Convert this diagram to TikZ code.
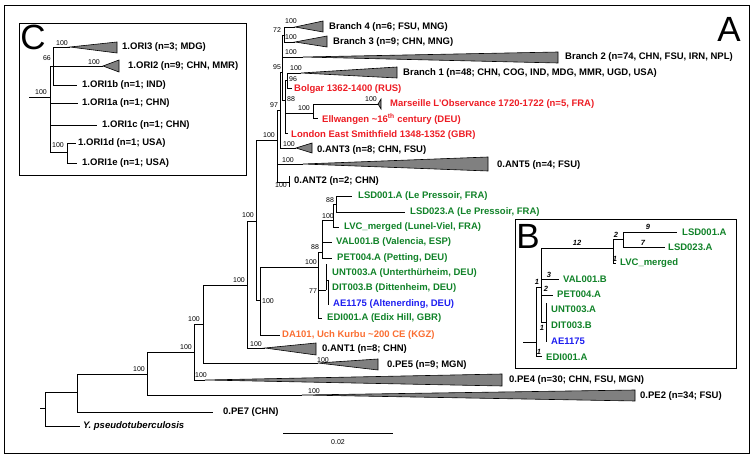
\documentclass[tikz,border=0pt]{standalone}
\usepackage{fontspec}
\setmainfont{Liberation Sans}
\definecolor{tred}{RGB}{237,28,36}
\definecolor{tgreen}{RGB}{16,130,40}
\definecolor{tblue}{RGB}{30,30,240}
\definecolor{torange}{RGB}{250,110,50}
\definecolor{tgray}{RGB}{128,128,128}
\tikzset{
  br/.style={line width=0.8pt, black},
  tri/.style={fill=tgray, draw=black, line width=0.6pt},
  lab/.style={anchor=west, inner sep=0pt, font=\bfseries\fontsize{9.5}{11}\selectfont},
  supp/.style={inner sep=0pt, font=\fontsize{7}{8}\selectfont},
  bnum/.style={inner sep=0pt, font=\bfseries\itshape\fontsize{7.5}{8}\selectfont},
  panel/.style={inner sep=0pt, font=\fontsize{35}{35}\selectfont},
  frame/.style={draw, line width=0.8pt}
}
\begin{document}
\begin{tikzpicture}[x=1pt,y=-1pt]
\useasboundingbox (0,0) rectangle (756,457);
\draw[frame] (4,5) rectangle (749,453);
\node[panel] (pA) at (729,29) {A};

% ---------------- main tree coordinates
\coordinate (rs) at (40,408);
\coordinate (root) at (45,408);
\coordinate (ypl) at (80,426);
\coordinate (n77) at (77,392);
\coordinate (pe7l) at (213,412);
\coordinate (n147) at (147,374);
\coordinate (pe2t) at (302,395);
\coordinate (n194) at (194,352);
\coordinate (pe4t) at (205,380);
\coordinate (n203) at (203,324);
\coordinate (pe5t) at (318,363);
\coordinate (n247) at (247,285);
\coordinate (ant1t) at (265,348);
\coordinate (n256) at (256,221);
\coordinate (n260) at (260,300);
\coordinate (dal) at (280,335);
\coordinate (n318) at (318,267);
\coordinate (edil) at (322,318);
\coordinate (n322) at (322,252);
\coordinate (n326) at (326,290);
\coordinate (u1) at (326,264);
\coordinate (n328) at (328,280);
\coordinate (u2) at (328,305);
\coordinate (n333) at (333,220);
\coordinate (vall) at (332,242);
\coordinate (petl) at (332,258);
\coordinate (n336) at (336,204);
\coordinate (lvcl) at (339,227);
\coordinate (lsd1l) at (352,196);
\coordinate (lsd2l) at (405,212);
\coordinate (n277) at (277,140);
\coordinate (ant5t) at (303,164);
\coordinate (n289) at (289,182);
\coordinate (ant2a) at (289,176);
\coordinate (ant2b) at (289,187);
\coordinate (n280) at (280,110);
\coordinate (ant3t) at (296,148);
\coordinate (n282) at (282,72);
\coordinate (n284) at (284,35);
\coordinate (b2t) at (303,57);
\coordinate (n285) at (285,100);
\coordinate (b4t) at (295,27);
\coordinate (b3t) at (295,42);
\coordinate (n287) at (287,80);
\coordinate (n313) at (313,113);
\coordinate (lonl) at (288,133);
\coordinate (b1t) at (301,73);
\coordinate (bolgl) at (292,88);
\coordinate (mart) at (378,104);
\coordinate (elll) at (318,118);

% ---------------- main tree branches
\draw[br] (rs) -- (root);
\draw[br] (root) |- (n77);
\draw[br] (root) |- (ypl);
\draw[br] (n77) |- (n147);
\draw[br] (n77) |- (pe7l);
\draw[br] (n147) |- (n194);
\draw[br] (n147) |- (pe2t);
\draw[br] (n194) |- (n203);
\draw[br] (n194) |- (pe4t);
\draw[br] (n203) |- (n247);
\draw[br] (n203) |- (pe5t);
\draw[br] (n247) |- (n256);
\draw[br] (n247) |- (ant1t);
\draw[br] (n256) |- (n277);
\draw[br] (n256) |- (n260);
\draw[br] (n260) |- (n318);
\draw[br] (n260) |- (dal);
\draw[br] (n318) |- (n322);
\draw[br] (n318) |- (n326);
\draw[br] (n318) |- (edil);
\draw[br] (n322) |- (n333);
\draw[br] (n322) |- (vall);
\draw[br] (n322) |- (petl);
\draw[br] (n333) |- (n336);
\draw[br] (n333) |- (lvcl);
\draw[br] (n336) |- (lsd1l);
\draw[br] (n336) |- (lsd2l);
\draw[br] (n326) |- (u1);
\draw[br] (n326) |- (n328);
\draw[br] (n328) |- (u2);
\draw[br] (n277) |- (n280);
\draw[br] (n277) |- (ant5t);
\draw[br] (n277) |- (n289);
\draw[br] (ant2a) -- (ant2b);
\draw[br] (n280) |- (n282);
\draw[br] (n280) |- (ant3t);
\draw[br] (n282) |- (n284);
\draw[br] (n282) |- (b2t);
\draw[br] (n282) |- (n285);
\draw[br] (n284) |- (b4t);
\draw[br] (n284) |- (b3t);
\draw[br] (n285) |- (n287);
\draw[br] (n285) |- (n313);
\draw[br] (n285) |- (lonl);
\draw[br] (n287) |- (b1t);
\draw[br] (n287) |- (bolgl);
\draw[br] (n313) |- (mart);
\draw[br] (n313) |- (elll);

% ---------------- collapsed clades
\filldraw[tri] (b4t) -- (323,21) -- (323,32) -- cycle;
\filldraw[tri] (b3t) -- (327,36) -- (327,47) -- cycle;
\filldraw[tri] (b2t) -- (558,52) -- (558,63) -- cycle;
\filldraw[tri] (b1t) -- (397,67) -- (397,78) -- cycle;
\filldraw[tri] (mart) -- (381,99) -- (381,109) -- cycle;
\filldraw[tri] (ant3t) -- (312,143) -- (312,153) -- cycle;
\filldraw[tri] (ant5t) -- (488,157) -- (488,171) -- cycle;
\filldraw[tri] (ant1t) -- (316,343) -- (316,355) -- cycle;
\filldraw[tri] (pe5t) -- (378,359) -- (378,370) -- cycle;
\filldraw[tri] (pe4t) -- (502,374) -- (502,386) -- cycle;
\filldraw[tri] (pe2t) -- (635,390) -- (635,401) -- cycle;

% ---------------- leaf labels
\node[lab] (Lb4) at (329,27) {Branch 4 (n=6; FSU, MNG)};
\node[lab] (Lb3) at (333,42) {Branch 3 (n=9; CHN, MNG)};
\node[lab] (Lb2) at (565,57) {Branch 2 (n=74, CHN, FSU, IRN, NPL)};
\node[lab] (Lb1) at (403,73) {Branch 1 (n=48; CHN, COG, IND, MDG, MMR, UGD, USA)};
\node[lab,tred] (Lbol) at (294,89) {Bolgar 1362-1400 (RUS)};
\node[lab,tred] (Lmar) at (390,104) {Marseille L'Observance 1720-1722 (n=5, FRA)};
\node[lab,tred] (Lell) at (322,119) {Ellwangen \textasciitilde16\textsuperscript{th} century (DEU)};
\node[lab,tred] (Llon) at (291,135) {London East Smithfield 1348-1352 (GBR)};
\node[lab] (Lant3) at (317,150) {0.ANT3 (n=8; CHN, FSU)};
\node[lab] (Lant5) at (497,165) {0.ANT5 (n=4; FSU)};
\node[lab] (Lant2) at (294,181) {0.ANT2 (n=2; CHN)};
\node[lab,tgreen] (Llsd1) at (358,196) {LSD001.A (Le Pressoir, FRA)};
\node[lab,tgreen] (Llsd2) at (410,212) {LSD023.A (Le Pressoir, FRA)};
\node[lab,tgreen] (Llvc) at (344,227) {LVC\_merged (Lunel-Viel, FRA)};
\node[lab,tgreen] (Lval) at (336,242) {VAL001.B (Valencia, ESP)};
\node[lab,tgreen] (Lpet) at (337,258) {PET004.A (Petting, DEU)};
\node[lab,tgreen] (Lunt) at (332,273) {UNT003.A (Unterthürheim, DEU)};
\node[lab,tgreen] (Ldit) at (332,288) {DIT003.B (Dittenheim, DEU)};
\node[lab,tblue] (Lae) at (333,304) {AE1175 (Altenerding, DEU)};
\node[lab,tgreen] (Ledi) at (327,318) {EDI001.A (Edix Hill, GBR)};
\node[lab,torange] (Lda) at (282,335) {DA101, Uch Kurbu \textasciitilde200 CE (KGZ)};
\node[lab] (Lant1) at (322,349) {0.ANT1 (n=8; CHN)};
\node[lab] (Lpe5) at (387,365) {0.PE5 (n=9; MGN)};
\node[lab] (Lpe4) at (509,380) {0.PE4 (n=30; CHN, FSU, MGN)};
\node[lab] (Lpe2) at (640,396) {0.PE2 (n=34; FSU)};
\node[lab] (Lpe7) at (223,412) {0.PE7 (CHN)};
\node[lab,font=\bfseries\itshape\fontsize{9.5}{11}\selectfont] (Lyp) at (83,426) {Y. pseudotuberculosis};

% ---------------- support values
\node[supp] (s01) at (139,369) {100};
\node[supp] (s02) at (186,347) {100};
\node[supp] (s03) at (194,319) {100};
\node[supp] (s04) at (201,375) {100};
\node[supp] (s05) at (314,391) {100};
\node[supp] (s06) at (323,360) {100};
\node[supp] (s07) at (239,280) {100};
\node[supp] (s08) at (256,344) {100};
\node[supp] (s09) at (248,215) {100};
\node[supp] (s10) at (268,301) {100};
\node[supp] (s11) at (311,262) {100};
\node[supp] (s12) at (315,247) {88};
\node[supp] (s13) at (328,216) {100};
\node[supp] (s14) at (330,200) {88};
\node[supp] (s15) at (313,291) {77};
\node[supp] (s16) at (269,135) {100};
\node[supp] (s17) at (274,105) {97};
\node[supp] (s18) at (277,67) {95};
\node[supp] (s19) at (277,30) {72};
\node[supp] (s20) at (291,21) {100};
\node[supp] (s21) at (291,37) {100};
\node[supp] (s22) at (291,52) {100};
\node[supp] (s23) at (296,68) {100};
\node[supp] (s24) at (293,79) {96};
\node[supp] (s25) at (291,99) {88};
\node[supp] (s26) at (304,108) {100};
\node[supp] (s27) at (371,99) {100};
\node[supp] (s28) at (289,144) {100};
\node[supp] (s29) at (288,160) {100};
\node[supp] (s30) at (281,185) {100};

% ---------------- scale bar
\coordinate (sb1) at (283,433);
\coordinate (sb2) at (393,433);
\draw[br] (sb1) -- (sb2);
\node[supp] (sbl) at (338,442) {0.02};

% ---------------- panel C
\draw[frame] (19,23) rectangle (246,175);
\node[panel] (pC) at (33,37) {C};
\coordinate (cs) at (29,97);
\coordinate (cr) at (50,97);
\coordinate (c66) at (53,66);
\coordinate (o3t) at (70,47);
\coordinate (o2t) at (103,66);
\coordinate (o1b) at (77,85);
\coordinate (o1a) at (78,103);
\coordinate (o1c) at (97,125);
\coordinate (c100) at (67,152);
\coordinate (o1d) at (76,143);
\coordinate (o1e) at (77,163);
\draw[br] (cs) -- (cr);
\draw[br] (cr) |- (c66);
\draw[br] (cr) |- (o1a);
\draw[br] (cr) |- (o1c);
\draw[br] (cr) |- (c100);
\draw[br] (c66) |- (o3t);
\draw[br] (c66) -- (o2t);
\draw[br] (c66) |- (o1b);
\draw[br] (c100) |- (o1d);
\draw[br] (c100) |- (o1e);
\filldraw[tri] (o3t) -- (117,42) -- (117,53) -- cycle;
\filldraw[tri] (o2t) -- (119,60) -- (119,72) -- cycle;
\node[lab] (Lo3) at (122,47) {1.ORI3 (n=3; MDG)};
\node[lab] (Lo2) at (128,66) {1.ORI2 (n=9; CHN, MMR)};
\node[lab] (Lo1b) at (82,85) {1.ORI1b (n=1; IND)};
\node[lab] (Lo1a) at (82,103) {1.ORI1a (n=1; CHN)};
\node[lab] (Lo1c) at (102,125) {1.ORI1c (n=1; CHN)};
\node[lab] (Lo1d) at (78,143) {1.ORI1d (n=1; USA)};
\node[lab] (Lo1e) at (82,163) {1.ORI1e (n=1; USA)};
\node[supp] (cs1) at (41,92) {100};
\node[supp] (cs2) at (47,58) {66};
\node[supp] (cs3) at (62,43) {100};
\node[supp] (cs4) at (94,62) {100};
\node[supp] (cs5) at (58,145) {100};

% ---------------- panel B
\draw[frame] (515,219) rectangle (736,368);
\node[panel] (pB) at (528,236) {B};
\coordinate (bs) at (523,342);
\coordinate (b536) at (536,342);
\coordinate (b541) at (541,287);
\coordinate (bedi) at (542,356);
\coordinate (b613) at (613,248);
\coordinate (bval) at (559,279);
\coordinate (bpet) at (553,295);
\coordinate (b546) at (546,322);
\coordinate (bu1) at (546,303);
\coordinate (bu2) at (546,342);
\coordinate (b623) at (623,239);
\coordinate (blvc) at (616,263);
\coordinate (bl1) at (677,232);
\coordinate (bl2) at (665,247);
\draw[br] (bs) -- (b536);
\draw[br] (b536) |- (b541);
\draw[br] (b536) |- (bedi);
\draw[br] (b541) |- (b613);
\draw[br] (b541) |- (bval);
\draw[br] (b541) |- (bpet);
\draw[br] (b541) |- (b546);
\draw[br] (b546) |- (bu1);
\draw[br] (b546) |- (bu2);
\draw[br] (b613) |- (b623);
\draw[br] (b613) |- (blvc);
\draw[br] (b623) |- (bl1);
\draw[br] (b623) |- (bl2);
\node[lab,tgreen] (Bl1) at (682,232) {LSD001.A};
\node[lab,tgreen] (Bl2) at (668,247) {LSD023.A};
\node[lab,tgreen] (Blvc) at (620,263) {LVC\_merged};
\node[lab,tgreen] (Bval) at (563,279) {VAL001.B};
\node[lab,tgreen] (Bpet) at (557,294) {PET004.A};
\node[lab,tgreen] (Bunt) at (551,309) {UNT003.A};
\node[lab,tgreen] (Bdit) at (551,325) {DIT003.B};
\node[lab,tblue] (Bae) at (551,341) {AE1175};
\node[lab,tgreen] (Bedi) at (546,357) {EDI001.A};
\node[bnum] (bn1) at (577,243) {12};
\node[bnum] (bn2) at (648,227) {9};
\node[bnum] (bn3) at (643,243) {7};
\node[bnum] (bn4) at (616,235) {2};
\node[bnum] (bn5) at (615,259) {1};
\node[bnum] (bn6) at (549,275) {3};
\node[bnum] (bn7) at (546,289) {2};
\node[bnum] (bn8) at (537,282) {1};
\node[bnum] (bn9) at (542,328) {1};
\node[bnum] (bn10) at (539,352) {1};
\end{tikzpicture}
\end{document}
